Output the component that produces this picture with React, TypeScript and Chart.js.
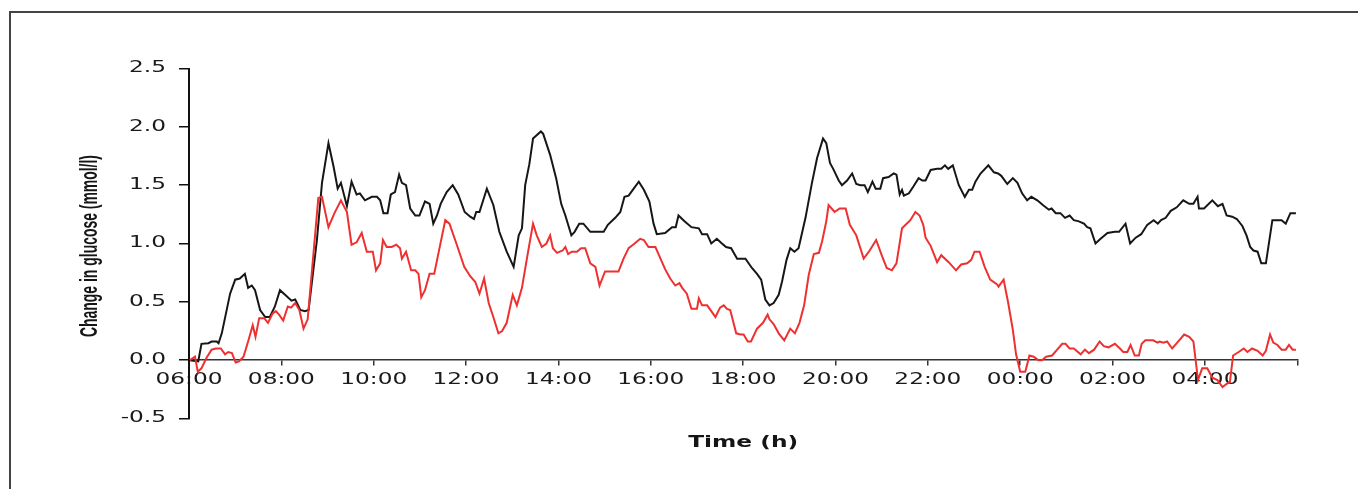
import React, { useEffect, useRef } from "react";
import { Chart, registerables } from "chart.js";

Chart.register(...registerables);

// hours after 06:00
const blackTimes = [0.02,0.2,0.27,0.42,0.49,0.6,0.64,0.71,0.89,1.0,1.1,1.21,1.28,1.36,1.43,1.54,1.65,1.75,1.86,1.97,2.08,2.22,2.3,2.41,2.51,2.59,2.77,2.88,3.02,3.13,3.22,3.29,3.42,3.52,3.63,3.7,3.81,3.96,4.07,4.14,4.21,4.3,4.37,4.46,4.55,4.61,4.7,4.79,4.9,4.99,5.11,5.21,5.29,5.37,5.45,5.58,5.71,5.83,5.97,6.09,6.17,6.22,6.29,6.45,6.59,6.72,6.88,7.03,7.14,7.21,7.28,7.37,7.45,7.62,7.67,7.82,7.95,8.06,8.15,8.28,8.35,8.45,8.54,8.69,8.83,8.98,9.07,9.23,9.34,9.43,9.52,9.61,9.74,9.85,9.97,10.06,10.13,10.31,10.46,10.54,10.6,10.73,10.88,11.04,11.11,11.22,11.31,11.43,11.54,11.63,11.74,11.87,12.05,12.19,12.3,12.39,12.48,12.57,12.66,12.77,12.84,12.94,13.02,13.11,13.2,13.35,13.49,13.6,13.73,13.8,13.88,13.95,14.07,14.14,14.25,14.36,14.45,14.54,14.63,14.7,14.8,14.87,14.97,15.03,15.15,15.26,15.32,15.39,15.44,15.48,15.59,15.69,15.8,15.88,15.95,16.06,16.2,16.29,16.37,16.44,16.54,16.67,16.8,16.89,16.96,17.03,17.14,17.31,17.43,17.52,17.59,17.72,17.84,17.94,18.04,18.15,18.24,18.37,18.49,18.62,18.68,18.77,18.87,18.97,19.07,19.16,19.27,19.38,19.45,19.52,19.63,19.74,19.89,20.05,20.14,20.28,20.38,20.5,20.62,20.75,20.89,20.98,21.05,21.15,21.26,21.39,21.53,21.66,21.75,21.84,21.87,21.98,22.16,22.28,22.38,22.47,22.59,22.69,22.81,22.9,22.98,23.05,23.14,23.22,23.32,23.46,23.66,23.75,23.85,23.97];
const blackValues = [0,-0.01,0.14,0.145,0.16,0.16,0.145,0.23,0.57,0.69,0.7,0.74,0.62,0.64,0.6,0.43,0.37,0.37,0.46,0.6,0.56,0.51,0.52,0.43,0.42,0.43,1.03,1.52,1.86,1.66,1.47,1.52,1.32,1.53,1.42,1.43,1.37,1.4,1.4,1.37,1.26,1.26,1.42,1.44,1.59,1.52,1.5,1.3,1.24,1.24,1.36,1.34,1.17,1.24,1.34,1.44,1.5,1.42,1.27,1.23,1.21,1.27,1.27,1.47,1.33,1.1,0.93,0.8,1.07,1.13,1.5,1.68,1.9,1.96,1.94,1.76,1.56,1.34,1.24,1.07,1.1,1.17,1.17,1.1,1.1,1.1,1.16,1.22,1.27,1.4,1.41,1.46,1.53,1.46,1.36,1.17,1.08,1.09,1.14,1.14,1.24,1.19,1.14,1.13,1.08,1.08,1.0,1.04,1.0,0.97,0.96,0.87,0.87,0.79,0.74,0.69,0.52,0.47,0.49,0.56,0.67,0.86,0.96,0.93,0.96,1.22,1.52,1.73,1.9,1.86,1.69,1.64,1.54,1.5,1.54,1.6,1.51,1.5,1.5,1.44,1.53,1.47,1.47,1.56,1.57,1.6,1.59,1.42,1.46,1.41,1.43,1.49,1.56,1.54,1.54,1.63,1.64,1.64,1.67,1.64,1.67,1.5,1.4,1.46,1.46,1.53,1.6,1.67,1.61,1.6,1.58,1.51,1.56,1.52,1.43,1.37,1.4,1.37,1.33,1.29,1.3,1.26,1.26,1.22,1.24,1.2,1.19,1.17,1.14,1.13,1.0,1.04,1.09,1.1,1.1,1.17,1.0,1.05,1.08,1.16,1.2,1.17,1.2,1.22,1.28,1.31,1.37,1.34,1.34,1.4,1.3,1.3,1.37,1.32,1.34,1.24,1.23,1.21,1.15,1.07,0.97,0.94,0.93,0.83,0.83,1.2,1.2,1.17,1.26,1.26];

const redTimes = [0.02,0.13,0.19,0.27,0.38,0.49,0.58,0.69,0.78,0.85,0.93,1.01,1.08,1.18,1.28,1.38,1.44,1.52,1.63,1.71,1.81,1.88,1.95,2.04,2.14,2.21,2.3,2.39,2.48,2.57,2.69,2.8,2.88,3.02,3.15,3.29,3.42,3.52,3.63,3.74,3.85,3.98,4.05,4.14,4.2,4.28,4.39,4.49,4.57,4.61,4.7,4.81,4.9,4.97,5.03,5.11,5.21,5.31,5.44,5.55,5.64,5.79,5.96,6.09,6.2,6.29,6.39,6.49,6.59,6.7,6.78,6.88,7.01,7.1,7.21,7.33,7.45,7.53,7.64,7.74,7.82,7.88,7.97,8.09,8.15,8.21,8.29,8.4,8.49,8.58,8.69,8.8,8.89,9.01,9.16,9.3,9.41,9.52,9.65,9.77,9.85,9.95,10.1,10.21,10.31,10.42,10.53,10.62,10.68,10.78,10.88,11.0,11.04,11.11,11.22,11.31,11.4,11.5,11.58,11.65,11.72,11.85,11.94,12.01,12.1,12.17,12.3,12.43,12.53,12.57,12.66,12.77,12.89,13.02,13.12,13.22,13.32,13.42,13.53,13.64,13.71,13.8,13.85,13.98,14.09,14.22,14.31,14.45,14.61,14.74,14.88,15.01,15.11,15.22,15.32,15.44,15.62,15.73,15.82,15.9,15.95,16.06,16.2,16.29,16.45,16.61,16.72,16.85,16.94,17.01,17.12,17.23,17.35,17.5,17.53,17.64,17.74,17.84,17.91,18.0,18.11,18.2,18.29,18.39,18.47,18.56,18.69,18.8,18.91,18.98,19.07,19.16,19.31,19.4,19.49,19.6,19.72,19.81,19.91,20.05,20.16,20.23,20.32,20.39,20.48,20.57,20.63,20.71,20.88,20.97,21.02,21.1,21.18,21.29,21.4,21.55,21.66,21.75,21.85,21.94,22.05,22.16,22.27,22.38,22.48,22.54,22.61,22.73,22.84,22.92,23.02,23.14,23.25,23.32,23.41,23.48,23.57,23.66,23.75,23.82,23.9,23.97];
const redValues = [0,0.03,-0.1,-0.07,0.02,0.09,0.1,0.1,0.05,0.07,0.06,-0.02,-0.01,0.03,0.16,0.3,0.2,0.36,0.36,0.32,0.4,0.42,0.39,0.34,0.46,0.45,0.49,0.43,0.27,0.35,0.89,1.39,1.4,1.14,1.26,1.37,1.27,0.99,1.01,1.09,0.93,0.93,0.77,0.83,1.03,0.97,0.97,0.99,0.96,0.87,0.93,0.77,0.77,0.74,0.54,0.6,0.74,0.74,0.99,1.2,1.17,1.0,0.8,0.72,0.67,0.57,0.7,0.49,0.37,0.23,0.25,0.32,0.56,0.47,0.62,0.9,1.17,1.07,0.97,1.0,1.07,0.96,0.92,0.94,0.97,0.91,0.93,0.93,0.96,0.96,0.83,0.8,0.64,0.76,0.76,0.76,0.87,0.96,1.0,1.04,1.03,0.97,0.97,0.87,0.78,0.7,0.64,0.66,0.62,0.57,0.44,0.44,0.53,0.47,0.47,0.42,0.37,0.45,0.47,0.44,0.43,0.23,0.22,0.22,0.16,0.16,0.27,0.32,0.39,0.35,0.31,0.23,0.17,0.27,0.23,0.32,0.47,0.73,0.91,0.92,1.02,1.19,1.33,1.27,1.3,1.3,1.16,1.07,0.87,0.94,1.03,0.89,0.79,0.77,0.83,1.13,1.2,1.27,1.24,1.16,1.05,0.98,0.84,0.9,0.84,0.77,0.82,0.83,0.86,0.93,0.93,0.8,0.69,0.65,0.63,0.69,0.49,0.26,0.05,-0.1,-0.1,0.04,0.03,0,0,0.03,0.04,0.09,0.14,0.14,0.1,0.1,0.05,0.09,0.06,0.09,0.16,0.12,0.11,0.14,0.1,0.07,0.07,0.13,0.04,0.04,0.14,0.17,0.17,0.15,0.16,0.15,0.16,0.1,0.15,0.22,0.2,0.16,-0.17,-0.07,-0.07,-0.15,-0.17,-0.23,-0.2,-0.19,0.04,0.07,0.1,0.07,0.1,0.08,0.04,0.08,0.22,0.15,0.13,0.09,0.09,0.13,0.09,0.09];

const xTickHours = [0, 2, 4, 6, 8, 10, 12, 14, 16, 18, 20, 22, 24];
const xTickLabels = ["06:00", "08:00", "10:00", "12:00", "14:00", "16:00", "18:00", "20:00", "22:00", "00:00", "02:00", "04:00", ""];
const yTickLabels = ["-0.5", "0.0", "0.5", "1.0", "1.5", "2.0", "2.5"];
const yTitle = "Change in glucose (mmol/l)";
const xTitle = "Time (h)";

const TICK_STRETCH = 1.55;

const stretchPlugin = {
  id: "stretchText",
  beforeDraw(chart: any) {
    const ctx = chart.ctx as any;
    if (!ctx.__origFill) {
      const orig = ctx.fillText;
      ctx.__origFill = orig;
      ctx.fillText = function (text: string, x: number, y: number, maxWidth?: number) {
        const s = ctx.__wide;
        if (!s || s === 1) {
          return maxWidth === undefined ? orig.call(ctx, text, x, y) : orig.call(ctx, text, x, y, maxWidth);
        }
        ctx.save();
        ctx.translate(x, y);
        ctx.scale(s, 1);
        orig.call(ctx, text, 0, 0);
        ctx.restore();
      };
    }
    ctx.__wide = TICK_STRETCH;
  },
  afterDraw(chart: any) {
    const ctx = chart.ctx as any;
    ctx.__wide = 0;
    const x = chart.scales.x;
    // y title (condensed bold, rotated)
    ctx.save();
    ctx.fillStyle = "#151515";
    ctx.font = 'bold 24px "Liberation Sans", Arial, sans-serif';
    const w = ctx.measureText(yTitle).width;
    ctx.translate(90, 246);
    ctx.rotate(-Math.PI / 2);
    ctx.scale(182 / w, 1);
    ctx.textAlign = "center";
    ctx.textBaseline = "middle";
    ctx.fillText(yTitle, 0, 0);
    ctx.restore();
    // x title (wide bold)
    ctx.save();
    ctx.fillStyle = "#151515";
    ctx.font = 'bold 16px "DejaVu Sans", sans-serif';
    const w2 = ctx.measureText(xTitle).width;
    ctx.translate((x.left + x.right) / 2, 443);
    ctx.scale(110 / w2, 1);
    ctx.textAlign = "center";
    ctx.textBaseline = "middle";
    ctx.fillText(xTitle, 0, 0);
    ctx.restore();
    ctx.__wide = TICK_STRETCH;
  },
};

export default function App() {
  const ref = useRef<HTMLCanvasElement | null>(null);
  useEffect(() => {
    if (!ref.current) return;
    const chart = new Chart(ref.current, {
      type: "line",
      data: {
        datasets: [
          {
            label: "red",
            data: redTimes.map((t, i) => ({ x: t, y: redValues[i] })),
            borderColor: "#ee3030",
            borderWidth: 2,
            pointRadius: 0,
            tension: 0,
            fill: false,
          },
          {
            label: "black",
            data: blackTimes.map((t, i) => ({ x: t, y: blackValues[i] })),
            borderColor: "#161616",
            borderWidth: 2,
            pointRadius: 0,
            tension: 0,
            fill: false,
          },
        ],
      },
      options: {
        animation: false,
        responsive: false,
        maintainAspectRatio: false,
        devicePixelRatio: 1,
        layout: { padding: { left: 0, top: 68.5, right: 60.7, bottom: 70.5 } },
        plugins: { legend: { display: false }, title: { display: false }, tooltip: { enabled: false } },
        scales: {
          x: {
            type: "linear",
            position: { y: 0 } as any,
            min: 0,
            max: 24,
            afterBuildTicks: (s: any) => {
              s.ticks = xTickHours.map((v) => ({ value: v }));
            },
            ticks: {
              autoSkip: false,
              maxRotation: 0,
              padding: 6,
              color: "#1a1a1a",
              font: { family: '"DejaVu Sans", sans-serif', size: 15 },
              callback: (v: any) => {
                const i = xTickHours.indexOf(Number(v));
                return i >= 0 ? xTickLabels[i] : "";
              },
            },
            grid: { drawOnChartArea: false, drawTicks: true, tickLength: 5, color: "#333", lineWidth: 1.5 },
            border: { display: true, color: "#333", width: 1.5 },
          },
          y: {
            type: "linear",
            min: -0.5,
            max: 2.5,
            afterFit: (s: any) => {
              s.width = 189;
            },
            ticks: {
              stepSize: 0.5,
              padding: 13,
              color: "#1a1a1a",
              font: { family: '"DejaVu Sans", sans-serif', size: 15 },
              callback: (v: any) => {
                const idx = Math.round((Number(v) + 0.5) / 0.5);
                return yTickLabels[idx] ?? "";
              },
            },
            grid: { drawOnChartArea: false, drawTicks: true, tickLength: 10, color: "#111", lineWidth: 1.5 },
            border: { display: true, color: "#111", width: 2 },
          },
        },
      },
      plugins: [stretchPlugin],
    });
    return () => chart.destroy();
  }, []);

  return (
    <div style={{ position: "fixed", left: 0, top: 0, width: 1358, height: 489, overflow: "hidden", background: "#fff" }}>
      <div
        style={{
          position: "absolute",
          left: 9,
          top: 11,
          width: 2000,
          height: 1000,
          borderTop: "2px solid #444",
          borderLeft: "2px solid #444",
        }}
      />
      <canvas ref={ref} width={1358} height={489} style={{ position: "absolute", left: 0, top: 0, width: 1358, height: 489 }} />
    </div>
  );
}
